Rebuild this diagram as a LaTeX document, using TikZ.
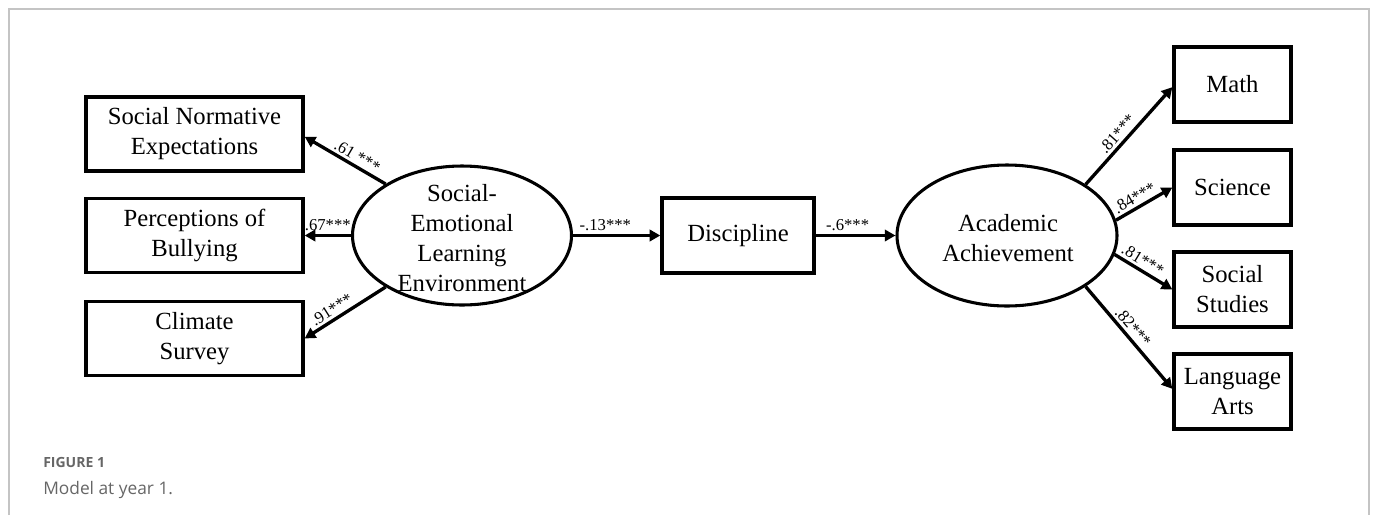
\documentclass[tikz,border=0pt]{standalone}
\usepackage{fontspec}
\setmainfont{Liberation Serif}
\newfontfamily\capfont{Open Sans}
\usetikzlibrary{arrows.meta,shapes.geometric}
\definecolor{framegray}{HTML}{C4C4C4}
\definecolor{capgray}{HTML}{666666}
\begin{document}
\begin{tikzpicture}[x=0.75pt,y=-0.75pt,
  box/.style={draw, line width=2.5pt, rectangle, inner sep=0pt, align=center,
    font=\fontsize{18.5}{22.5}\selectfont},
  leftbox/.style={box, minimum width=162.75pt, minimum height=55.5pt},
  rightbox/.style={box, minimum width=87.75pt, minimum height=56.25pt},
  lat/.style={draw, line width=2.3pt, ellipse, inner sep=0pt},
  lattext/.style={align=center, inner sep=0pt, font=\fontsize{18.5}{22.3}\selectfont},
  conn/.style={line width=2.5pt, -{Triangle[length=8pt,width=8.5pt]}},
  lbl/.style={font=\fontsize{12.5}{13}\selectfont, inner sep=2pt, sloped, above},
  frameline/.style={draw=framegray, line width=1.1pt},
]
\useasboundingbox (0,0) rectangle (1375,515);
% frame
\draw[frameline] (9,515) -- (9,9) -- (1369,9) -- (1369,515);

% left indicator boxes
\node[leftbox] (sn) at (194.5,134)   {Social Normative\\Expectations};
\node[leftbox] (pb) at (194.5,235.5) {Perceptions of\\Bullying};
\node[leftbox] (cs) at (194.5,338.5) {Climate\\Survey};

% latent SEL
\node[lat, minimum width=164.25pt, minimum height=104.25pt] (sel) at (462,235.5) {};
\node[lattext] (seltext) at (462,238) {Social-\\Emotional\\Learning\\Environment};

% discipline
\node[box, minimum width=114pt, minimum height=56.25pt] (disc) at (738,235.5) {Discipline};

% latent academic
\node[lat, minimum width=165pt, minimum height=105.75pt] (ach) at (1007,235.5) {};
\node[lattext] (achtext) at (1008,238) {Academic\\Achievement};

% right indicator boxes
\node[rightbox] (math) at (1232.5,84.5)  {Math};
\node[rightbox] (sci)  at (1232.5,187.5) {Science};
\node[rightbox] (ss)   at (1232.5,289.5) {Social\\Studies};
\node[rightbox] (la)   at (1232.5,391.5) {Language\\Arts};

% connectors
\draw[conn] (sel.146) -- ([yshift=-2pt]sn.east) node[lbl, pos=0.41] {.61 ***};
\draw[conn] (sel.west) -- (pb.east) node[lbl, pos=0.5] {.67***};
\draw[conn] (sel.214) -- (cs.east) node[lbl, pos=0.6] {.91***};
\draw[conn] (sel.east) -- (disc.west) node[lbl, pos=0.37] {-.13***};
\draw[conn] (disc.east) -- (ach.west) node[lbl, pos=0.4] {-.6***};
\draw[conn] (ach.33) -- ([yshift=-2pt]math.west) node[lbl, pos=0.45] {.81***};
\draw[conn] (ach.8) -- (sci.west) node[lbl, pos=0.42] {.84***};
\draw[conn] (ach.-10) -- (ss.west) node[lbl, pos=0.4] {.81***};
\draw[conn] (ach.-33) -- ([yshift=2pt]la.west) node[lbl, pos=0.46] {.82***};

% caption
\node[anchor=west, inner sep=0pt, text=capgray, font=\capfont\bfseries\fontsize{10.5}{12}\selectfont] (figlabel) at (43,462) {FIGURE 1};
\node[anchor=west, inner sep=0pt, text=capgray, font=\capfont\fontsize{13}{15}\selectfont] (figcap) at (43,490) {Model at year 1.};
\end{tikzpicture}
\end{document}
